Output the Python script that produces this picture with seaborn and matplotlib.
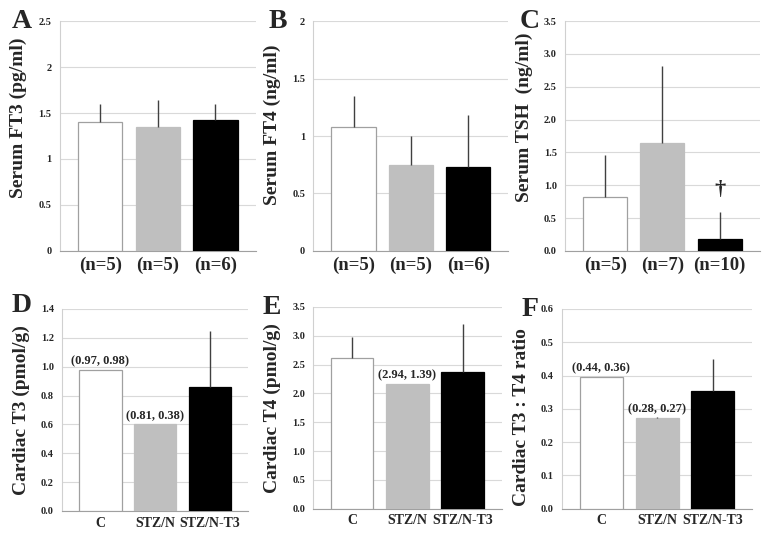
import numpy as np
import pandas as pd
import seaborn as sns
import matplotlib.pyplot as plt
from matplotlib.ticker import FormatStrFormatter, FuncFormatter

# groups / tick labels
groups = ["C", "STZ/N", "STZ/N-T3"]
n_top_a = ["(n=5)", "(n=5)", "(n=6)"]
n_top_b = ["(n=5)", "(n=5)", "(n=6)"]
n_top_c = ["(n=5)", "(n=7)", "(n=10)"]

# serum values (mean, upper SD)
ft3_mean = [1.40, 1.35, 1.42]
ft3_sd = [0.20, 0.29, 0.18]
ft4_mean = [1.08, 0.75, 0.73]
ft4_sd = [0.27, 0.25, 0.45]
tsh_mean = [0.82, 1.64, 0.18]
tsh_sd = [0.64, 1.18, 0.41]

# cardiac values
ct3_mean = [0.98, 0.60, 0.86]
ct3_sd = [0.0, 0.0, 0.39]
ct4_mean = [2.61, 2.17, 2.37]
ct4_sd = [0.36, 0.0, 0.84]
ratio_mean = [0.396, 0.274, 0.355]
ratio_sd = [0.0, 0.003, 0.094]

# two individual values shown over bars with n=2
d_notes = {0: "(0.97, 0.98)", 1: "(0.81, 0.38)"}
e_notes = {1: "(2.94, 1.39)"}
f_notes = {0: "(0.44, 0.36)", 1: "(0.28, 0.27)"}

palette = {"C": "white", "STZ/N": "#bfbfbf", "STZ/N-T3": "black"}
edges = ["#a0a0a0", "#bfbfbf", "black"]

sns.set_style("white")
plt.rcParams["font.family"] = ["Liberation Serif", "DejaVu Serif"]
plt.rcParams["font.weight"] = "bold"

fig = plt.figure(figsize=(7.68, 5.43), dpi=100)


def panel(rect, means, sds, ylim, step, ylabel, xticks, xfs, letter, lpos, fmt,
          notes=None, label_y=0.5):
    ax = fig.add_axes(rect)
    df = pd.DataFrame({"group": groups, "value": means})
    sns.barplot(data=df, x="group", y="value", hue="group", palette=palette,
                order=groups, hue_order=groups, legend=False, errorbar=None,
                width=0.77, ax=ax, zorder=3)
    for p, ec in zip(ax.patches, edges):
        p.set_edgecolor(ec)
        p.set_linewidth(0.9)
    sd = np.array(sds)
    ax.errorbar(np.arange(3), means, yerr=[np.zeros(3), sd], fmt="none",
                ecolor="#404040", elinewidth=1.0, capsize=0, zorder=4)
    ax.set_xlim(-0.7, 2.7)
    ax.set_ylim(0, ylim)
    ax.set_yticks(np.arange(0, ylim + step / 2, step))
    ax.yaxis.set_major_formatter(fmt)
    ax.set_xticks(range(3))
    ax.set_xticklabels(xticks, fontsize=xfs, fontweight="bold")
    ax.tick_params(axis="y", labelsize=7.5, length=0, pad=6)
    ax.tick_params(axis="x", length=0, pad=4)
    ax.grid(axis="y", color="#d9d9d9", linewidth=0.8, zorder=0)
    ax.set_axisbelow(True)
    for s in ["top", "right"]:
        ax.spines[s].set_visible(False)
    ax.spines["left"].set_color("#d0d0d0")
    ax.spines["bottom"].set_color("#a0a0a0")
    ax.set_xlabel("")
    ax.set_ylabel(ylabel, fontsize=14, fontweight="bold", labelpad=8)
    ax.yaxis.label.set_y(label_y)
    fig.text(lpos[0], lpos[1], letter, fontsize=20, fontweight="bold",
             ha="center", va="center")
    if notes:
        for i, t in notes.items():
            ax.text(i, means[i] + ylim * 0.012, t, ha="center", va="bottom",
                    fontsize=9, fontweight="bold")
    return ax


plain = FuncFormatter(lambda v, pos: f"{v:g}")
one = FormatStrFormatter("%.1f")

panel([0.078, 0.538, 0.255, 0.423], ft3_mean, ft3_sd, 2.5, 0.5, "Serum FT3 (pg/ml)",
      n_top_a, 13.5, "A", (22 / 768, 1 - 22 / 543), plain, label_y=0.58)
panel([0.408, 0.538, 0.254, 0.423], ft4_mean, ft4_sd, 2.0, 0.5, "Serum FT4 (ng/ml)",
      n_top_b, 13.5, "B", (278 / 768, 1 - 22 / 543), plain, label_y=0.55)
axc = panel([0.736, 0.538, 0.253, 0.423], tsh_mean, tsh_sd, 3.5, 0.5, "Serum TSH  (ng/ml)",
            n_top_c, 13.5, "C", (530 / 768, 1 - 22 / 543), one, label_y=0.58)
axc.text(2, 0.78, "\u2020", ha="center", va="bottom", fontsize=16, fontweight="bold")

panel([0.081, 0.059, 0.242, 0.372], ct3_mean, ct3_sd, 1.4, 0.2, "Cardiac T3 (pmol/g)",
      groups, 10, "D", (22 / 768, 1 - 305 / 543), one, d_notes)
panel([0.408, 0.063, 0.245, 0.372], ct4_mean, ct4_sd, 3.5, 0.5, "Cardiac T4 (pmol/g)",
      groups, 10, "E", (272 / 768, 1 - 308 / 543), one, e_notes)
panel([0.732, 0.063, 0.247, 0.368], ratio_mean, ratio_sd, 0.6, 0.1, "Cardiac T3 : T4 ratio",
      groups, 10, "F", (530 / 768, 1 - 309 / 543), one, f_notes, label_y=0.46)

fig.savefig("out.png", dpi=100)
